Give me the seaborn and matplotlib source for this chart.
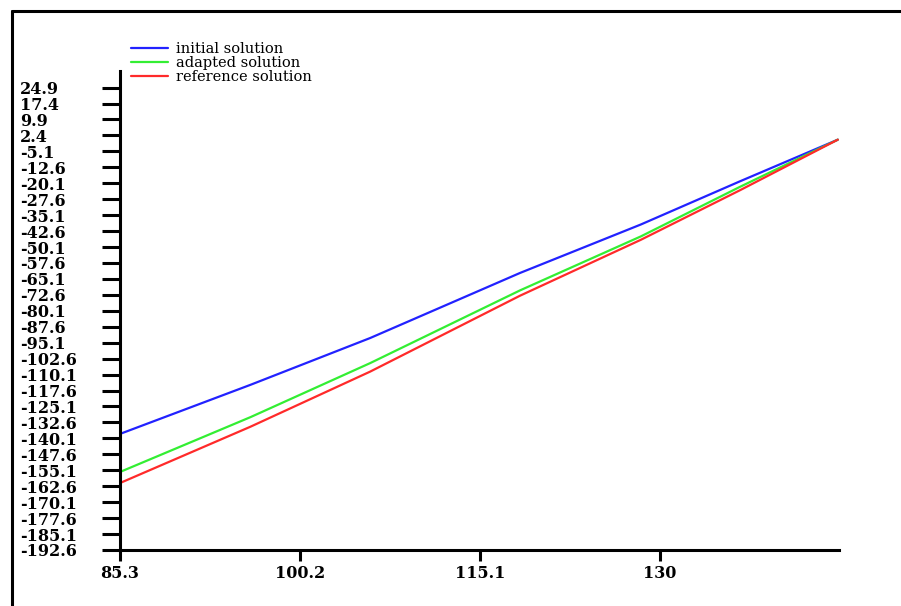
import numpy as np
import pandas as pd
import matplotlib
matplotlib.use("Agg")
import matplotlib.pyplot as plt
from matplotlib.lines import Line2D
import seaborn as sns

# values
x_vals = [85.3, 96.1, 106.0, 118.4, 128.4, 136.6, 144.7]
initial = [-138.0, -114.9, -92.9, -62.3, -39.5, -19.2, 0.4]
adapted = [-155.9, -130.1, -104.7, -70.5, -45.1, -21.8, 0.4]
reference = [-161.1, -134.6, -108.7, -73.0, -46.7, -23.4, 0.4]

series_names = ["initial solution", "adapted solution", "reference solution"]
colors = ["#2222ff", "#33ee33", "#ff2a2a"]

xtick_vals = [85.3, 100.2, 115.1, 130]
xtick_labels = ["85.3", "100.2", "115.1", "130"]
ytick_vals = np.round(24.9 - 7.5 * np.arange(30), 1)
ytick_labels = ["%.1f" % v for v in ytick_vals]

# long form table for seaborn
df = pd.DataFrame({
    "x": x_vals * 3,
    "y": initial + adapted + reference,
    "series": [series_names[0]] * 7 + [series_names[1]] * 7 + [series_names[2]] * 7,
})

sns.set_style("white")
plt.rcParams["font.family"] = ["DejaVu Serif"]
plt.rcParams["text.color"] = "black"

W, H = 901, 606
fig = plt.figure(figsize=(W / 100, H / 100), dpi=100)
ax = fig.add_axes([120 / W, (H - 550) / H, (839 - 120) / W, (550 - 71) / H])

sns.lineplot(data=df, x="x", y="y", hue="series", palette=colors,
             linewidth=1.6, ax=ax, sort=False, legend=False)

ax.set_xlim(85.3, 144.8)
ax.set_ylim(-192.6, 32.7)
ax.set_xlabel("")
ax.set_ylabel("")

ax.set_xticks(xtick_vals)
ax.set_xticklabels(xtick_labels, fontweight="bold", fontsize=11.5)
ax.set_yticks(ytick_vals)
ax.set_yticklabels(ytick_labels, fontweight="bold", fontsize=11.5, ha="left")

ax.tick_params(axis="y", left=True, length=13, width=2.2, pad=59,
               direction="out", color="black", labelcolor="black")
ax.tick_params(axis="x", bottom=True, length=8, width=2.2, pad=3,
               direction="out", color="black", labelcolor="black")

for s in ["top", "right"]:
    ax.spines[s].set_visible(False)
for s in ["left", "bottom"]:
    ax.spines[s].set_linewidth(2.2)
    ax.spines[s].set_color("black")

# legend in the upper left
handles = [Line2D([], [], color=c, lw=1.6) for c in colors]
leg = fig.legend(handles, series_names, loc="upper left",
                 bbox_to_anchor=(121 / W, 1 - 32 / H), frameon=False,
                 fontsize=10.5, handlelength=2.5, handletextpad=0.6,
                 labelspacing=0.0, borderpad=0.2)
for t in leg.get_texts():
    t.set_color("black")

# outer frame (top and left visible)
fig.add_artist(Line2D([11.5 / W, 11.5 / W], [0, 1 - 10.5 / H], color="black", lw=2.2))
fig.add_artist(Line2D([11.5 / W, 1], [1 - 10.5 / H, 1 - 10.5 / H], color="black", lw=2.2))

fig.savefig("out.png", dpi=100)
